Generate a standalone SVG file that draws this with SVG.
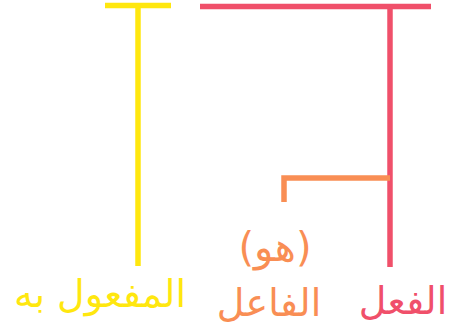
<svg xmlns="http://www.w3.org/2000/svg" width="451" height="329" viewBox="0 0 451 329">
<style>
.y{stroke:#FFE70F;}
.r{stroke:#F0506A;}
.o{stroke:#F98E54;}
line,polyline{stroke-width:5.5;fill:none;}
text{font-family:"DejaVu Sans",sans-serif;font-size:38px;text-anchor:middle;direction:rtl;}
</style>
<g id="connectors">
<line class="y" x1="105" y1="5.5" x2="171" y2="5.5"/>
<line class="y" x1="138" y1="5.5" x2="138" y2="266"/>
<line class="r" x1="200" y1="6.5" x2="431" y2="6.5"/>
<line class="r" x1="390" y1="6.5" x2="390" y2="267"/>
<polyline class="o" points="390,178 284,178 284,202"/>
</g>
<g id="fi3l"><text x="403" y="314" fill="#F0506A">الفعل</text></g>
<g id="fa3il"><text x="269" y="316" fill="#F98E54">الفاعل</text>
<text x="275" y="261" fill="#F98E54" style="font-size:40px">(هو)</text></g>
<g id="maf3ul"><text x="100" y="307" fill="#FFE70F">المفعول به</text></g>
</svg>
